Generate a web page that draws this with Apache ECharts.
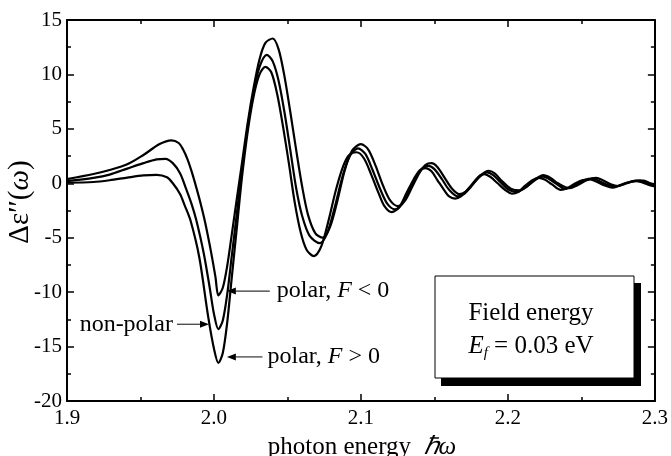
<!DOCTYPE html>
<html><head><meta charset="utf-8">
<script src="https://cdn.jsdelivr.net/npm/echarts/dist/echarts.min.js"></script>
<style>html,body{margin:0;padding:0;background:#fff}#c{width:671px;height:456px}</style>
</head><body><div id="c"></div>
<script>
// ---- data ----
const xTickLabels = ['1.9', '2.0', '2.1', '2.2', '2.3'];
const yTickLabels = ['-20', '-15', '-10', '-5', '0', '5', '10', '15'];

// polar, F > 0
const xPolarPos = [1.900,1.918,1.929,1.941,1.952,1.961,1.968,1.972,1.977,1.980,1.984,1.990,1.996,2.000,2.003,2.006,2.009,2.012,2.016,2.019,2.023,2.027,2.031,2.035,2.039,2.043,2.047,2.051,2.055,2.059,2.063,2.068,2.073,2.078,2.083,2.088,2.092,2.097,2.102,2.107,2.112,2.116,2.121,2.126,2.131,2.136,2.140,2.144,2.148,2.152,2.157,2.160,2.164,2.168,2.173,2.178,2.181,2.184,2.188,2.193,2.198,2.203,2.207,2.212,2.217,2.221,2.225,2.230,2.236,2.241,2.246,2.251,2.256,2.261,2.266,2.271,2.276,2.281,2.287,2.291,2.295,2.300];
const yPolarPos = [0.05,0.12,0.28,0.52,0.72,0.78,0.55,0.0,-1.0,-2.0,-3.4,-6.8,-12.2,-15.2,-16.5,-15.6,-12.8,-8.8,-3.5,0.5,4.8,8.0,10.0,10.7,10.2,8.2,5.2,1.8,-1.8,-4.5,-6.1,-6.7,-5.8,-3.4,-0.6,1.6,2.6,2.85,2.3,0.8,-0.9,-2.1,-2.65,-2.2,-0.9,0.4,1.2,1.4,1.1,0.3,-0.7,-1.2,-1.4,-1.2,-0.5,0.3,0.7,0.85,0.6,0.0,-0.6,-0.95,-0.8,-0.2,0.3,0.5,0.35,-0.1,-0.6,-0.4,0.0,0.3,0.35,0.1,-0.2,-0.4,-0.2,0.05,0.2,0.1,-0.1,-0.3];

// non-polar
const xNonPolar = [1.900,1.918,1.929,1.941,1.952,1.961,1.967,1.972,1.977,1.981,1.985,1.988,1.993,1.997,2.000,2.003,2.006,2.009,2.012,2.016,2.019,2.023,2.027,2.031,2.036,2.040,2.044,2.048,2.052,2.056,2.060,2.065,2.072,2.077,2.082,2.087,2.092,2.098,2.103,2.108,2.113,2.118,2.123,2.128,2.133,2.138,2.142,2.146,2.150,2.155,2.160,2.166,2.170,2.175,2.180,2.186,2.190,2.195,2.200,2.206,2.210,2.216,2.221,2.224,2.228,2.233,2.239,2.244,2.252,2.258,2.263,2.268,2.273,2.279,2.285,2.290,2.295,2.300];
const yNonPolar = [0.2,0.5,0.8,1.35,1.85,2.2,2.25,1.85,0.9,-0.5,-2.0,-3.4,-6.4,-9.5,-12.0,-13.4,-12.6,-10.2,-6.8,-2.3,1.1,5.2,8.4,10.7,11.8,11.2,9.4,6.5,3.0,-0.5,-3.0,-4.8,-5.5,-4.6,-2.3,0.4,2.4,3.2,2.7,1.2,-0.5,-1.9,-2.4,-1.9,-0.6,0.7,1.4,1.6,1.3,0.4,-0.6,-1.2,-1.0,-0.3,0.5,1.0,0.75,0.1,-0.55,-0.8,-0.55,0.05,0.5,0.62,0.4,-0.05,-0.52,-0.3,0.3,0.42,0.15,-0.15,-0.3,-0.05,0.2,0.24,0.0,-0.2];

// polar, F < 0
const xPolarNeg = [1.900,1.918,1.929,1.941,1.952,1.963,1.971,1.976,1.979,1.982,1.985,1.988,1.991,1.994,1.998,2.001,2.003,2.006,2.009,2.012,2.016,2.019,2.023,2.027,2.031,2.035,2.040,2.044,2.048,2.052,2.056,2.060,2.064,2.069,2.074,2.079,2.084,2.089,2.094,2.100,2.105,2.110,2.115,2.120,2.125,2.130,2.135,2.140,2.144,2.148,2.152,2.157,2.162,2.167,2.171,2.176,2.181,2.187,2.191,2.196,2.202,2.208,2.213,2.219,2.224,2.229,2.234,2.242,2.247,2.254,2.260,2.265,2.270,2.275,2.281,2.287,2.292,2.296,2.300];
const yPolarNeg = [0.38,0.85,1.22,1.74,2.6,3.6,3.95,3.7,3.1,2.2,1.0,-0.4,-1.9,-3.6,-6.3,-8.6,-10.3,-9.6,-7.6,-4.8,-1.0,1.8,5.6,8.8,11.4,12.9,13.3,12.3,9.8,6.5,3.0,-0.3,-2.9,-4.6,-5.0,-4.0,-1.6,1.2,3.0,3.6,3.1,1.6,-0.2,-1.6,-2.1,-1.6,-0.3,1.0,1.7,1.85,1.5,0.5,-0.5,-1.0,-0.8,-0.1,0.7,1.15,0.9,0.2,-0.5,-0.65,-0.3,0.4,0.75,0.5,0.0,-0.45,-0.2,0.3,0.5,0.25,-0.1,-0.25,0.0,0.25,0.25,0.05,-0.1];

const zip = (xs, ys) => xs.map((x, i) => [x, ys[i]]);
const FONT = '"Liberation Serif","Times New Roman",serif';

const chart = echarts.init(document.getElementById('c'), null, {renderer: 'canvas'});

const axisCommon = {
  axisLine: {show: true, onZero: false, lineStyle: {color: '#000', width: 2}},
  axisTick: {show: true, inside: true, length: 7, lineStyle: {color: '#000', width: 1.5}},
  minorTick: {show: true, splitNumber: 2, length: 4, lineStyle: {color: '#000', width: 1.5}},
  splitLine: {show: false},
  minorSplitLine: {show: false}
};

function lineSeries(name, xs, ys) {
  return {
    name, type: 'line', data: zip(xs, ys), showSymbol: false, symbol: 'none',
    smooth: 0.3, lineStyle: {color: '#000', width: 2.2}, silent: true, z: 3
  };
}

chart.setOption({
  animation: false,
  backgroundColor: '#fff',
  grid: {left: 67, right: 15, top: 20, bottom: 55, containLabel: false},
  xAxis: [
    Object.assign({}, axisCommon, {
      type: 'value', min: 1.9, max: 2.3, interval: 0.1, position: 'bottom',
      axisLabel: {color: '#000', fontFamily: FONT, fontSize: 21, margin: 7,
        formatter: v => xTickLabels[Math.round((v - 1.9) / 0.1)]}
    }),
    Object.assign({}, axisCommon, {
      type: 'value', min: 1.9, max: 2.3, interval: 0.1, position: 'top',
      axisLabel: {show: false}
    })
  ],
  yAxis: [
    Object.assign({}, axisCommon, {
      type: 'value', min: -20, max: 15, interval: 5, position: 'left',
      axisLabel: {color: '#000', fontFamily: FONT, fontSize: 21, margin: 5,
        formatter: v => yTickLabels[Math.round((v + 20) / 5)]}
    }),
    Object.assign({}, axisCommon, {
      type: 'value', min: -20, max: 15, interval: 5, position: 'right',
      axisLabel: {show: false}
    })
  ],
  series: [
    lineSeries('polar, F > 0', xPolarPos, yPolarPos),
    lineSeries('non-polar', xNonPolar, yNonPolar),
    lineSeries('polar, F < 0', xPolarNeg, yPolarNeg)
  ]
});

function px(x, y) { return chart.convertToPixel({xAxisIndex: 0, yAxisIndex: 0}, [x, y]); }

function arrow(from, to) {
  const dx = to[0] - from[0];
  const dir = dx > 0 ? 1 : -1;
  const L = 9, W = 3.5;
  return [
    {type: 'line', shape: {x1: from[0], y1: from[1], x2: to[0] - dir * L, y2: to[1]},
     style: {stroke: '#333', lineWidth: 1.2}, z: 10},
    {type: 'polygon', shape: {points: [[to[0], to[1]], [to[0] - dir * L, to[1] - W], [to[0] - dir * L, to[1] + W]]},
     style: {fill: '#000'}, z: 10}
  ];
}

const AF = 24;
const richStyle = {
  n: {fontFamily: FONT, fontSize: AF, fill: '#000'},
  i: {fontFamily: FONT, fontSize: AF, fontStyle: 'italic', fill: '#000'}
};

const aNegTip = px(2.0088, -9.9), aNegTail = px(2.038, -9.9);
const aNonTail = px(1.9748, -12.95), aNonTip = px(1.9966, -12.95);
const aPosTip = px(2.0088, -15.95), aPosTail = px(2.033, -15.95);

const g = [];
g.push(...arrow(aNegTail, aNegTip));
g.push(...arrow(aNonTail, aNonTip));
g.push(...arrow(aPosTail, aPosTip));
g.push({type: 'text', x: aNegTail[0] + 7, y: aNegTail[1], z: 10,
  style: {text: '{n|polar, }{i|F}{n| < 0}', rich: richStyle, align: 'left', verticalAlign: 'middle'}});
g.push({type: 'text', x: aNonTail[0] - 4, y: aNonTail[1], z: 10,
  style: {text: '{n|non-polar}', rich: richStyle, align: 'right', verticalAlign: 'middle'}});
g.push({type: 'text', x: aPosTail[0] + 5, y: aPosTail[1], z: 10,
  style: {text: '{n|polar, }{i|F}{n| > 0}', rich: richStyle, align: 'left', verticalAlign: 'middle'}});

// info box with shadow
g.push({type: 'rect', shape: {x: 441, y: 283, width: 200, height: 103}, style: {fill: '#000'}, z: 20});
g.push({type: 'rect', shape: {x: 435, y: 276, width: 199, height: 102}, style: {fill: '#fff', stroke: '#000', lineWidth: 1}, z: 21});
g.push({type: 'text', x: 531, y: 313, z: 22,
  style: {text: 'Field energy', fontFamily: FONT, fontSize: 25, fill: '#000', align: 'center', verticalAlign: 'middle'}});
g.push({type: 'text', x: 531, y: 346, z: 22,
  style: {text: '{i|E}{s|f}{n| = 0.03 eV}', align: 'center', verticalAlign: 'middle',
    rich: {
      n: {fontFamily: FONT, fontSize: 25, fill: '#000'},
      i: {fontFamily: FONT, fontSize: 25, fontStyle: 'italic', fill: '#000'},
      s: {fontFamily: FONT, fontSize: 15, fontStyle: 'italic', fill: '#000', padding: [14, 0, 0, 0]}
    }}});

// axis titles
g.push({type: 'text', x: 362, y: 447, z: 10,
  style: {text: '{n|photon energy  }{i|ℏω}', align: 'center', verticalAlign: 'middle',
    rich: {n: {fontFamily: FONT, fontSize: 25, fill: '#000'}, i: {fontFamily: FONT, fontSize: 25, fontStyle: 'italic', fill: '#000'}}}});
g.push({type: 'text', x: 20, y: 202, rotation: Math.PI / 2, z: 10,
  style: {text: '{n|Δ}{e|ε}{n|′′(}{i|ω}{n|)}', align: 'center', verticalAlign: 'middle',
    rich: {n: {fontFamily: FONT, fontSize: 29, fill: '#000'},
           e: {fontFamily: FONT, fontSize: 29, fill: '#000'},
           i: {fontFamily: FONT, fontSize: 29, fontStyle: 'italic', fill: '#000'}}}});

chart.setOption({graphic: g});
</script>
</body></html>
